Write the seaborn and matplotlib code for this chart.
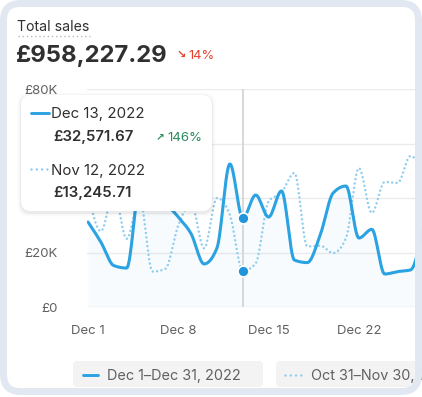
import numpy as np
import pandas as pd
import matplotlib.pyplot as plt
import seaborn as sns
from matplotlib.patches import FancyBboxPatch
from matplotlib.transforms import IdentityTransform

# ============================================
# DATA (daily sales in £)
# ============================================
days = list(range(1, 28))
current_sales = [31200, 23800, 15200, 14300, 45000, 50000, 39000, 33000, 26800, 15800,
                 21700, 52500, 32571.67, 41100, 33000, 42600, 17200, 16300, 26400, 41800,
                 44400, 25300, 28500, 12100, 13000, 13600, 30000]
previous_sales = [42000, 27800, 42000, 25000, 40000, 13000, 14000, 30000, 38000, 21500,
                  40000, 33800, 13245.71, 16000, 38800, 42000, 49200, 22200, 22500, 19800,
                  25300, 51000, 34500, 45900, 45500, 55400, 50000]
tick_days = [1, 8, 15, 22]
tick_labels = ["Dec 1", "Dec 8", "Dec 15", "Dec 22"]
y_ticks = [0, 20000, 40000, 60000, 80000]
y_labels = ["£0", "£20K", "£40K", "£60K", "£80K"]
hover_day = 13

BLUE = "#2ba2e2"
LIGHT_BLUE = "#8ecdf0"
DOT_BLUE = "#1f95dc"
TEXT = "#303030"
SUBTLE = "#616161"


def monotone_curve(x, y, n=16):
    # smooth drawing path through the daily points (monotone cubic, like d3)
    x = np.asarray(x, float)
    y = np.asarray(y, float)
    h = np.diff(x)
    s = np.diff(y) / h
    m = np.zeros_like(y)
    for i in range(1, len(y) - 1):
        p = (s[i - 1] * h[i] + s[i] * h[i - 1]) / (h[i - 1] + h[i])
        m[i] = (np.sign(s[i - 1]) + np.sign(s[i])) * min(abs(s[i - 1]), abs(s[i]), 0.5 * abs(p))
    m[0] = (3 * s[0] - m[1]) / 2
    m[-1] = (3 * s[-1] - m[-2]) / 2
    xs, ys = [], []
    for i in range(len(x) - 1):
        t = np.linspace(0, 1, n, endpoint=False)
        h00 = 2 * t**3 - 3 * t**2 + 1
        h10 = t**3 - 2 * t**2 + t
        h01 = -2 * t**3 + 3 * t**2
        h11 = t**3 - t**2
        xs.extend(x[i] + t * h[i])
        ys.extend(h00 * y[i] + h10 * h[i] * m[i] + h01 * y[i + 1] + h11 * h[i] * m[i + 1])
    xs.append(x[-1])
    ys.append(y[-1])
    return np.array(xs), np.array(ys)


cx, cy = monotone_curve(days, current_sales)
px_, py_ = monotone_curve(days, previous_sales)
curve_df = pd.concat([
    pd.DataFrame({"day": cx, "sales": cy, "period": "current"}),
    pd.DataFrame({"day": px_, "sales": py_, "period": "previous"}),
])

# ============================================
# FIGURE
# ============================================
sns.set_theme(style="white")
plt.rcParams["font.family"] = ["Inter", "DejaVu Sans"]

W, H = 422, 397
fig = plt.figure(figsize=(W / 100, H / 100), dpi=100)
fig.patch.set_facecolor("white")


def fx(x):
    return x / W


def fy(y):
    return 1 - y / H


ax = fig.add_axes([fx(87), fy(307), 388 / W, 218 / H])
ax.set_facecolor("white")

ax.fill_between(cx, cy, color=BLUE, alpha=0.035, lw=0, zorder=1)
ax.axvline(hover_day, color="#d2d2d2", lw=1.2, zorder=1)

sns.lineplot(data=curve_df[curve_df.period == "previous"], x="day", y="sales",
             color=LIGHT_BLUE, lw=1.8, linestyle=(0, (0.01, 1.75)),
             dash_capstyle="round", estimator=None, sort=False, ax=ax, zorder=2)
sns.lineplot(data=curve_df[curve_df.period == "current"], x="day", y="sales",
             color=BLUE, lw=2.2, estimator=None, sort=False, ax=ax, zorder=3)

hover = pd.DataFrame({"day": [hover_day, hover_day],
                      "sales": [current_sales[hover_day - 1], previous_sales[hover_day - 1]]})
sns.scatterplot(data=hover, x="day", y="sales", color=DOT_BLUE, s=62,
                edgecolor="white", linewidth=1.2, ax=ax, zorder=4)

ax.set_xlim(1 - 1 / 12.9, 31)
ax.set_ylim(0, 80000)
ax.set_xticks(tick_days)
ax.set_xticklabels(tick_labels)
ax.set_yticks(y_ticks)
ax.set_yticklabels(y_labels)
ax.set_xlabel("")
ax.set_ylabel("")
ax.grid(axis="y", color="#ebebeb", lw=1)
ax.grid(axis="x", visible=False)
ax.tick_params(axis="x", length=0, pad=13, labelsize=9.5, labelcolor=SUBTLE)
ax.tick_params(axis="y", length=0, pad=21, labelsize=9.5, labelcolor=SUBTLE)
for sp in ax.spines.values():
    sp.set_visible(False)

# ============================================
# HEADER
# ============================================
fig.text(fx(17), fy(31), "Total sales", fontsize=10.2, color=TEXT, va="baseline")
fig.add_artist(plt.Line2D([fx(18), fx(90)], [fy(36), fy(36)], color="#b8b8b8",
                          lw=1, linestyle=(0, (1, 2))))
fig.text(fx(16), fy(62), "£958,227.29", fontsize=17.2, fontweight="bold", color=TEXT,
         va="baseline")
fig.text(fx(176), fy(58), "↘", fontsize=8, fontweight="bold", color="#e0412f",
         va="baseline", family=["DejaVu Sans"])
fig.text(fx(188), fy(59), "14%", fontsize=9.3, color="#e0412f", va="baseline")

# ============================================
# TOOLTIP
# ============================================
pix = IdentityTransform()
for grow, alpha in [(7, 0.015), (4, 0.025), (2, 0.04)]:
    fig.add_artist(FancyBboxPatch((21 - grow / 2, H - 213 - grow / 2), 191 + grow, 117 + grow,
                                  boxstyle="round,pad=0,rounding_size=11", transform=pix,
                                  fc="black", ec="none", alpha=alpha, zorder=5))
fig.add_artist(FancyBboxPatch((21, H - 211), 191, 116,
                              boxstyle="round,pad=0,rounding_size=10", transform=pix,
                              fc="white", ec="none", zorder=6))
fig.add_artist(plt.Line2D([fx(31), fx(49)], [fy(113), fy(113)], color=BLUE, lw=2.1, zorder=7))
fig.add_artist(plt.Line2D([fx(31), fx(48)], [fy(169), fy(169)], color=LIGHT_BLUE, lw=1.8,
                          linestyle=(0, (0.01, 2.1)), dash_capstyle="round", zorder=7))
fig.text(fx(51), fy(118), "Dec 13, 2022", fontsize=10.8, color=TEXT, va="baseline", zorder=8)
fig.text(fx(53), fy(141.5), "£32,571.67", fontsize=10.8, fontweight="semibold", color=TEXT,
         va="baseline", zorder=8)
fig.text(fx(156), fy(140), "↗", fontsize=7.5, fontweight="bold", color="#2a8a5c",
         va="baseline", family=["DejaVu Sans"], zorder=8)
fig.text(fx(167), fy(141.5), "146%", fontsize=9.5, color="#2a8a5c", va="baseline", zorder=8)
fig.text(fx(51), fy(174.5), "Nov 12, 2022", fontsize=10.8, color=TEXT, va="baseline", zorder=8)
fig.text(fx(53), fy(197.5), "£13,245.71", fontsize=10.8, fontweight="semibold", color=TEXT,
         va="baseline", zorder=8)

# ============================================
# LEGEND PILLS
# ============================================
fig.add_artist(FancyBboxPatch((73, H - 387), 190, 26, boxstyle="round,pad=0,rounding_size=4",
                              transform=pix, fc="#f3f3f3", ec="none", zorder=5))
fig.add_artist(FancyBboxPatch((276, H - 387), 142, 26, boxstyle="round,pad=0,rounding_size=4",
                              transform=pix, fc="#f3f3f3", ec="none", zorder=5))
fig.add_artist(plt.Line2D([fx(83), fx(98)], [fy(375), fy(375)], color=BLUE, lw=2.1, zorder=6))
fig.add_artist(plt.Line2D([fx(285), fx(301)], [fy(375), fy(375)], color=LIGHT_BLUE, lw=1.8,
                          linestyle=(0, (0.01, 2.1)), dash_capstyle="round", zorder=6))
fig.text(fx(107), fy(380), "Dec 1–Dec 31, 2022", fontsize=10.4, color=SUBTLE, va="baseline", zorder=7)
fig.text(fx(311), fy(380), "Oct 31–Nov 30, 2022", fontsize=10.4, color=SUBTLE, va="baseline", zorder=7)

# ============================================
# CARD FRAME
# ============================================
fig.add_artist(FancyBboxPatch((3.5, H - 391.5), 415, 388, boxstyle="round,pad=0,rounding_size=17",
                              transform=pix, fc="none", ec="#e1e8f1", lw=5, zorder=20))

fig.savefig("out.png", dpi=100)
